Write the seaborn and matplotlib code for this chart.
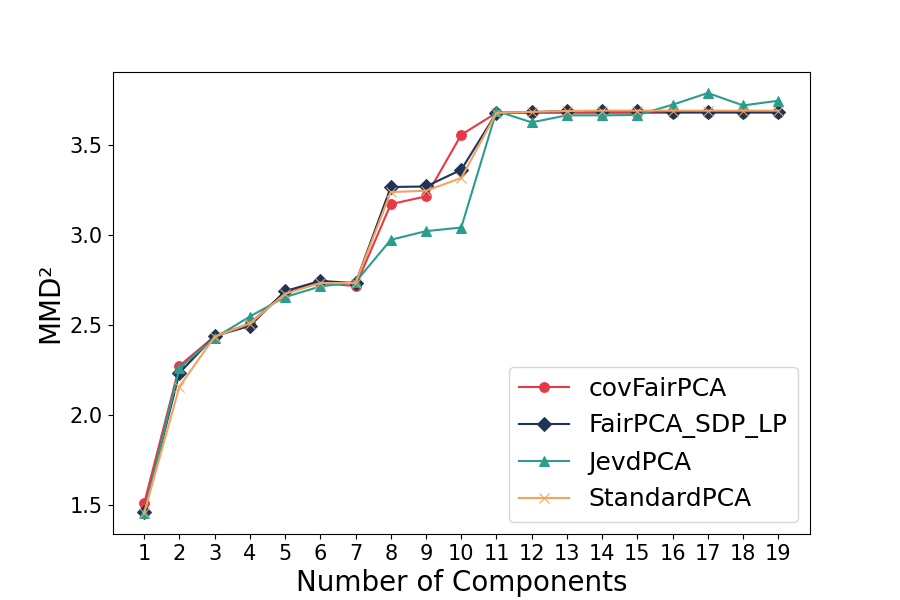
import numpy as np
import pandas as pd
import matplotlib
matplotlib.use("Agg")
import matplotlib.pyplot as plt
import seaborn as sns

components = list(range(1, 20))
cov_fair_pca = [1.512, 2.275, 2.44, 2.51, 2.685, 2.735, 2.718, 3.173, 3.216, 3.558, 3.68,
                3.68, 3.68, 3.68, 3.68, 3.68, 3.68, 3.68, 3.68]
fair_pca_sdp_lp = [1.466, 2.236, 2.44, 2.497, 2.69, 2.747, 2.734, 3.268, 3.271, 3.364, 3.68,
                   3.684, 3.69, 3.69, 3.69, 3.685, 3.685, 3.685, 3.685]
jevd_pca = [1.458, 2.262, 2.43, 2.549, 2.657, 2.716, 2.74, 2.975, 3.023, 3.043, 3.69,
            3.627, 3.666, 3.666, 3.668, 3.725, 3.79, 3.721, 3.747]
standard_pca = [1.458, 2.16, 2.437, 2.51, 2.675, 2.735, 2.735, 3.24, 3.247, 3.318, 3.68,
                3.685, 3.69, 3.692, 3.692, 3.692, 3.692, 3.692, 3.692]

methods = ["covFairPCA", "FairPCA_SDP_LP", "JevdPCA", "StandardPCA"]
series = [cov_fair_pca, fair_pca_sdp_lp, jevd_pca, standard_pca]
colors = ["#E63946", "#1D3557", "#2A9D8F", "#F4A261"]
markers = ["o", "D", "^", "x"]

fig, ax = plt.subplots(figsize=(9, 6), dpi=100)
for name, vals, c, m in zip(methods, series, colors, markers):
    sns.lineplot(x=components, y=vals, color=c, marker=m, markersize=7,
                 linewidth=1.5, markeredgecolor=c, label=name, ax=ax)
ax.set_xticks(components)
ax.set_xlabel("Number of Components", fontsize=20)
ax.set_ylabel("MMD²", fontsize=20)
ax.tick_params(axis="both", labelsize=15)
ax.set_yticks([1.5, 2.0, 2.5, 3.0, 3.5])
ax.legend(title=None, fontsize=18, loc="lower right")
fig.savefig("out.png", dpi=100)
